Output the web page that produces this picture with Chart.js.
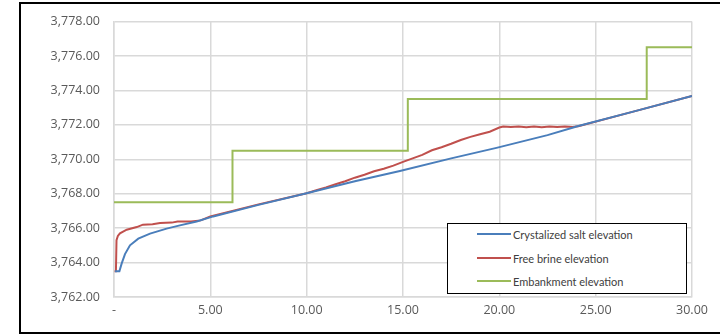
<!DOCTYPE html>
<html>
<head>
<meta charset="utf-8">
<script src="https://cdn.jsdelivr.net/npm/chart.js@4/dist/chart.umd.min.js"></script>
<style>
    html, body { margin: 0; padding: 0; background: #fff; }
    #wrap { position: relative; width: 720px; height: 335px; overflow: hidden; }
    #frame {
        position: absolute; left: 19px; top: 2px; width: 720px; height: 328px;
        border: 2px solid #000; box-sizing: content-box; pointer-events: none;
    }
    #legend {
        position: absolute; left: 447px; top: 223px; width: 238px; height: 69px;
        border: 1.5px solid #000; background: #fff;
        font-family: Lato, sans-serif; font-size: 11px; color: #404040;
    }
    .row { position: absolute; left: 29px; height: 14px; display: flex; align-items: center; }
    .row span.swatch { display: inline-block; width: 34px; height: 2px; margin-right: 2px; }
</style>
</head>
<body>
<div id="wrap">
    <canvas id="chart" width="720" height="335"></canvas>
    <div id="frame"></div>
    <div id="legend"></div>
</div>
<script>
// x axis (time) and y axis (elevation) ticks
const xTicks = [0, 5, 10, 15, 20, 25, 30];
const yTicks = [3762, 3764, 3766, 3768, 3770, 3772, 3774, 3776, 3778];

const seriesNames = ['Crystalized salt elevation', 'Free brine elevation', 'Embankment elevation'];
const seriesColors = ['#4a7ebb', '#c0504d', '#9bbb59'];

// Crystalized salt elevation
const saltX = [0.05, 0.28, 0.40, 0.57, 0.83, 1.26, 1.87, 2.73, 3.42, 4.29, 5.15, 7.5, 10, 12.5, 14.84, 17.5, 19.85, 22.5, 23.84, 24.0, 27, 30];
const saltY = [3763.5, 3763.5, 3763.95, 3764.49, 3765.0, 3765.39, 3765.68, 3765.97, 3766.16, 3766.39, 3766.68, 3767.35, 3768.03, 3768.72, 3769.32, 3770.05, 3770.66, 3771.4, 3771.84, 3771.9, 3772.78, 3773.68];

// Free brine elevation
const brineX = [0.03, 0.1, 0.13, 0.2, 0.31, 0.66, 1.18, 1.5, 2.0, 2.39, 3.0, 3.3, 4.0, 4.5, 5.0, 7.5, 10, 10.5, 11, 11.5, 12, 12.5, 13, 13.5, 14, 14.5, 15, 15.5, 16, 16.5, 17, 17.5, 18, 18.5, 19, 19.5, 20, 20.2, 20.6, 21, 21.4, 21.8, 22.2, 22.6, 23, 23.4, 23.8, 24.1, 27, 30];
const brineY = [3763.5, 3763.5, 3765.3, 3765.55, 3765.7, 3765.91, 3766.06, 3766.2, 3766.22, 3766.3, 3766.32, 3766.38, 3766.38, 3766.45, 3766.68, 3767.38, 3768.03, 3768.2, 3768.36, 3768.55, 3768.72, 3768.93, 3769.1, 3769.3, 3769.45, 3769.63, 3769.85, 3770.05, 3770.25, 3770.52, 3770.7, 3770.9, 3771.12, 3771.3, 3771.45, 3771.6, 3771.84, 3771.9, 3771.87, 3771.9, 3771.86, 3771.9, 3771.86, 3771.9, 3771.87, 3771.9, 3771.87, 3771.92, 3772.78, 3773.68];

// Embankment elevation (steps)
const embankX = [0, 6.15, 6.15, 15.25, 15.25, 27.65, 27.65, 30];
const embankY = [3767.5, 3767.5, 3770.5, 3770.5, 3773.5, 3773.5, 3776.5, 3776.5];

const toPoints = (xs, ys) => xs.map((x, i) => ({ x: x, y: ys[i] }));

const fmt = v => v === 0 ? '-' : v.toLocaleString('en-US', { minimumFractionDigits: 2, maximumFractionDigits: 2 });

function makeDataset(i, xs, ys) {
    return {
        label: seriesNames[i],
        data: toPoints(xs, ys),
        borderColor: seriesColors[i],
        backgroundColor: seriesColors[i],
        borderWidth: 2,
        pointRadius: 0,
        showLine: true,
        tension: 0,
        fill: false
    };
}

const tickFont = { family: '"Open Sans", sans-serif', size: 12.5 };
const gridColor = '#d9d9d9';

new Chart(document.getElementById('chart').getContext('2d'), {
    type: 'scatter',
    data: {
        datasets: [
            makeDataset(0, saltX, saltY),
            makeDataset(1, brineX, brineY),
            makeDataset(2, embankX, embankY)
        ]
    },
    options: {
        responsive: false,
        animation: false,
        layout: { padding: { top: 21, right: 28, bottom: 0, left: 0 } },
        plugins: {
            legend: { display: false },
            tooltip: { enabled: false }
        },
        scales: {
            x: {
                type: 'linear',
                min: 0,
                max: 30,
                afterBuildTicks: axis => { axis.ticks = xTicks.map(v => ({ value: v })); },
                afterFit: axis => { axis.height = 38; },
                ticks: { callback: fmt, color: '#595959', font: tickFont, padding: 6, maxRotation: 0 },
                grid: { color: gridColor, lineWidth: 1.5, drawTicks: false },
                border: { color: gridColor, width: 1.5 }
            },
            y: {
                type: 'linear',
                min: 3762,
                max: 3778,
                afterBuildTicks: axis => { axis.ticks = yTicks.map(v => ({ value: v })); },
                afterFit: axis => { axis.width = 114; },
                ticks: { callback: fmt, color: '#595959', font: tickFont, padding: 14 },
                grid: { color: gridColor, lineWidth: 1.5, drawTicks: false },
                border: { color: gridColor, width: 1.5 }
            }
        }
    }
});

// Legend box inside the plot, as in the original
const legend = document.getElementById('legend');
const rowTops = [3, 27, 50];
seriesNames.forEach((name, i) => {
    const row = document.createElement('div');
    row.className = 'row';
    row.style.top = rowTops[i] + 'px';
    const sw = document.createElement('span');
    sw.className = 'swatch';
    sw.style.background = seriesColors[i];
    row.appendChild(sw);
    row.appendChild(document.createTextNode(name));
    legend.appendChild(row);
});
</script>
</body>
</html>
